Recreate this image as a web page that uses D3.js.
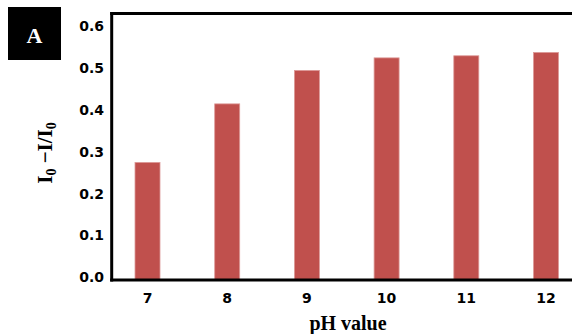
<!DOCTYPE html>
<html>
<head>
<meta charset="utf-8">
<script src="https://cdn.jsdelivr.net/npm/d3@7"></script>
<style>
  html, body { margin: 0; padding: 0; background: #fff; }
  svg { display: block; }
</style>
</head>
<body>
<svg id="chart" width="572" height="334"></svg>
<script>
// pH response data
const phLevels = ["7", "8", "9", "10", "11", "12"];
const responses = [0.28, 0.42, 0.50, 0.53, 0.535, 0.543];
const yTicks = [0.0, 0.1, 0.2, 0.3, 0.4, 0.5, 0.6];

const svg = d3.select("#chart");
const W = 572, H = 334;

const frameLeft = 111.7, frameTop = 13.5, frameBottom = 280;

const x = d3.scaleBand()
  .domain(phLevels)
  .range([107.65, 585.85])
  .paddingInner(0.6863)
  .paddingOuter(0.6863 / 2);

const y = d3.scaleLinear()
  .domain([0, 0.6])
  .range([279.5, 28.6]);

// bars
svg.append("g")
  .selectAll("rect")
  .data(responses)
  .join("rect")
  .attr("x", (d, i) => x(phLevels[i]))
  .attr("y", d => y(d))
  .attr("width", x.bandwidth())
  .attr("height", d => y(0) - y(d))
  .attr("fill", "#C0504D")
  .attr("stroke", "#dd9a98")
  .attr("stroke-width", 0.8);

// y axis labels
const yAxis = d3.axisLeft(y)
  .tickValues(yTicks)
  .tickFormat(d3.format(".1f"))
  .tickSize(0)
  .tickPadding(0);

svg.append("g")
  .attr("transform", "translate(104,0)")
  .call(yAxis)
  .call(g => g.select(".domain").remove())
  .call(g => g.selectAll("text")
    .attr("font-family", "'DejaVu Sans', sans-serif")
    .attr("font-weight", "bold")
    .attr("font-size", 14)
    .attr("fill", "#000")
    .attr("dy", "0.16em"));

// x axis labels
const xAxis = d3.axisBottom(x).tickSize(0).tickPadding(0);
svg.append("g")
  .attr("transform", "translate(0,293)")
  .call(xAxis)
  .call(g => g.select(".domain").remove())
  .call(g => g.selectAll("text")
    .attr("font-family", "'DejaVu Sans', sans-serif")
    .attr("font-weight", "bold")
    .attr("font-size", 14)
    .attr("fill", "#000")
    .attr("dy", "0.72em"));

// frame lines
svg.append("line")
  .attr("x1", frameLeft).attr("x2", frameLeft)
  .attr("y1", frameTop - 1.5).attr("y2", frameBottom + 1.5)
  .attr("stroke", "#000").attr("stroke-width", 3);
svg.append("line")
  .attr("x1", frameLeft - 1.5).attr("x2", W)
  .attr("y1", frameTop).attr("y2", frameTop)
  .attr("stroke", "#000").attr("stroke-width", 3);
svg.append("line")
  .attr("x1", frameLeft - 1.5).attr("x2", W)
  .attr("y1", frameBottom).attr("y2", frameBottom)
  .attr("stroke", "#000").attr("stroke-width", 3);

// x axis title
svg.append("text")
  .attr("x", 348).attr("y", 329.5)
  .attr("text-anchor", "middle")
  .attr("font-family", "'Liberation Serif', 'Times New Roman', serif")
  .attr("font-weight", "bold")
  .attr("font-size", 20)
  .attr("fill", "#000")
  .text("pH value");

// y axis title: I0 −I/I0
const yt = svg.append("text")
  .attr("transform", "translate(52,153) rotate(-90)")
  .attr("text-anchor", "middle")
  .attr("font-family", "'Liberation Serif', 'Times New Roman', serif")
  .attr("font-weight", "bold")
  .attr("font-size", 21)
  .attr("fill", "#000");
yt.append("tspan").text("I");
yt.append("tspan").attr("font-size", 14).attr("dy", 4).text("0");
yt.append("tspan").attr("dy", -4).text(" \u2212I/I");
yt.append("tspan").attr("font-size", 14).attr("dy", 4).text("0");

// panel badge
svg.append("rect")
  .attr("x", 8).attr("y", 7)
  .attr("width", 53).attr("height", 53)
  .attr("fill", "#000");
svg.append("text")
  .attr("x", 34.5).attr("y", 43)
  .attr("text-anchor", "middle")
  .attr("font-family", "'Liberation Serif', 'Times New Roman', serif")
  .attr("font-weight", "bold")
  .attr("font-size", 22)
  .attr("fill", "#fff")
  .text("A");
</script>
</body>
</html>
